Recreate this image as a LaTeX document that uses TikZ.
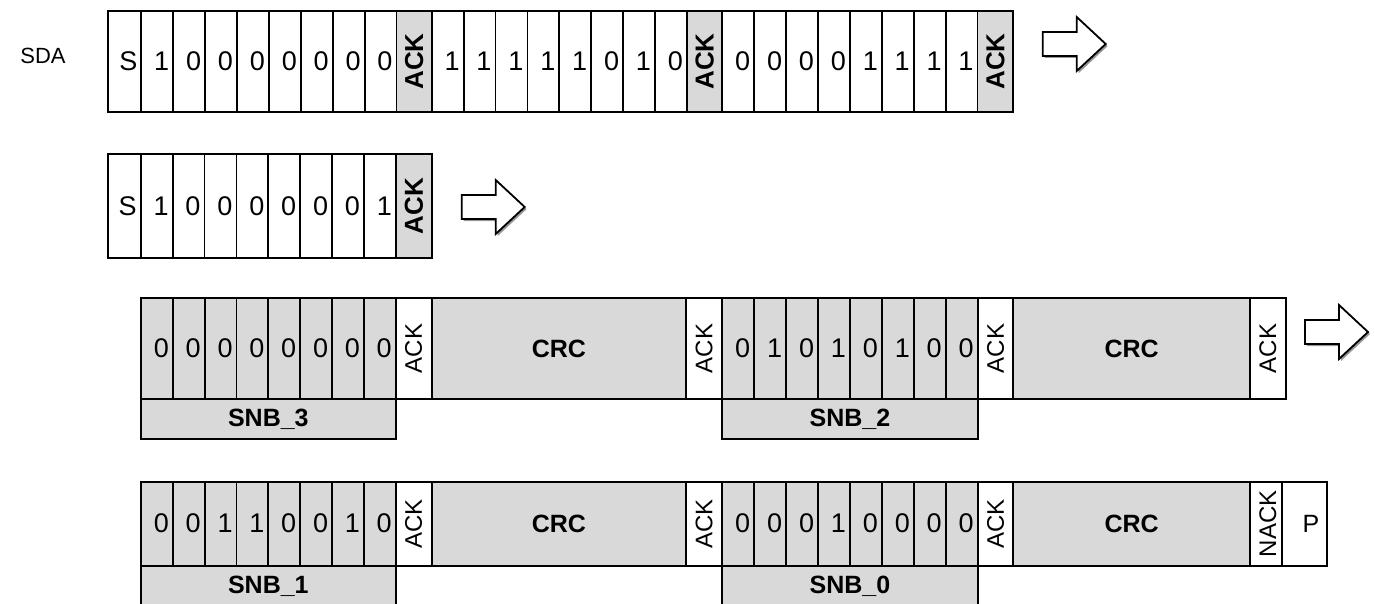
\documentclass[tikz,border=0pt]{standalone}
\usepackage{fontspec}
\setmainfont{Liberation Sans}
\definecolor{cellgray}{RGB}{217,217,217}
\definecolor{shadowgray}{RGB}{150,150,150}
\tikzset{
  base/.style={draw=black, line width=1.8pt, inner sep=0pt, outer sep=0pt, font=\fontsize{27}{27}\selectfont},
  bitw/.style={base, fill=white, text width=\celltw pt, align=right, inner xsep=4pt},
  bitg/.style={base, fill=cellgray, text width=\celltw pt, align=right, inner xsep=4pt},
  ackbold/.style={base, fill=cellgray, font=\fontsize{26}{26}\selectfont\bfseries},
  ackreg/.style={base, fill=white, font=\fontsize{24}{24}\selectfont},
  crcbox/.style={base, fill=cellgray, font=\fontsize{25}{25}\selectfont\bfseries},
  snbbox/.style={base, fill=cellgray, font=\fontsize{25}{25}\selectfont\bfseries},
  pbox/.style={base, fill=white, text width=\celltw pt, align=right, inner xsep=8pt, font=\fontsize{25}{25}\selectfont},
  arrowline/.style={draw=black, fill=white, line width=1.8pt, line join=miter},
  arrowshadow/.style={fill=shadowgray},
}
% horizontal cell: name, x1, x2, y1, y2, style, text
\newcommand\hcell[7]{%
  \pgfmathsetmacro\cellw{#3-#2}\pgfmathsetmacro\cellh{#5-#4}%
  \pgfmathsetmacro\celltw{#3-#2-8}%
  \pgfmathsetmacro\cellx{(#2+#3)/2}\pgfmathsetmacro\celly{(#4+#5)/2}%
  \node[#6, minimum width=\cellw pt, minimum height=\cellh pt] (#1) at (\cellx,\celly) {#7};}
% vertical (rotated text) cell
\newcommand\vcell[7]{%
  \pgfmathsetmacro\cellw{#3-#2}\pgfmathsetmacro\cellh{#5-#4}%
  \pgfmathsetmacro\cellx{(#2+#3)/2}\pgfmathsetmacro\celly{(#4+#5)/2}%
  \node[#6, rotate=90, minimum width=\cellh pt, minimum height=\cellw pt] (#1) at (\cellx,\celly) {#7};}
% row of bits: prefix, x0, width, y1, y2, style, list
\newcommand\bitrow[7]{%
  \foreach \bv [count=\bi from 0] in {#7} {%
    \pgfmathsetmacro\xa{#2+\bi*#3}\pgfmathsetmacro\xb{#2+(\bi+1)*#3}%
    \hcell{#1\bi}{\xa}{\xb}{#4}{#5}{#6}{\bv}}}
% block arrow: name, left x, centre y
\newcommand\blockarrow[3]{%
  \coordinate (#1) at (#2,#3);
  \begin{scope}[shift={(#1)}]
    \fill[arrowshadow] (2,-10) -- (36,-10) -- (36,-25) -- (65,2) -- (36,29) -- (36,14) -- (2,14) -- cycle;
    \draw[arrowline] (0,-12) -- (34,-12) -- (34,-27) -- (63,0) -- (34,27) -- (34,12) -- (0,12) -- cycle;
  \end{scope}}
\begin{document}
\begin{tikzpicture}[x=1pt,y=-1pt]
\useasboundingbox (0,0) rectangle (1375,604);

\node[font=\fontsize{22}{22}\selectfont] (sda) at (43,56) {SDA};

% ---- Row 1
\hcell{r1s}{108}{141.3}{11}{112}{bitw}{S}
\bitrow{r1a}{141.3}{31.9}{11}{112}{bitw}{1,0,0,0,0,0,0,0}
\vcell{r1ack1}{396.5}{431.7}{11}{112}{ackbold}{ACK}
\bitrow{r1b}{431.7}{31.9}{11}{112}{bitw}{1,1,1,1,1,0,1,0}
\vcell{r1ack2}{686.9}{722.3}{11}{112}{ackbold}{ACK}
\bitrow{r1c}{722.3}{31.9}{11}{112}{bitw}{0,0,0,0,1,1,1,1}
\vcell{r1ack3}{977.5}{1013.3}{11}{112}{ackbold}{ACK}
\blockarrow{arr1}{1042.7}{44}

% ---- Row 2
\hcell{r2s}{108}{140.7}{154}{257.7}{bitw}{S}
\bitrow{r2a}{140.7}{31.9}{154}{257.7}{bitw}{1,0,0,0,0,0,0,1}
\vcell{r2ack}{395.9}{431.7}{154}{257.7}{ackbold}{ACK}
\blockarrow{arr2}{461.7}{207}

% ---- Row 3
\bitrow{r3a}{141}{31.84}{298.3}{399}{bitg}{0,0,0,0,0,0,0,0}
\vcell{r3ack1}{395.7}{431.7}{298.3}{399}{ackreg}{ACK}
\hcell{r3crc1}{431.7}{686}{298.3}{399}{crcbox}{CRC}
\vcell{r3ack2}{686}{722.3}{298.3}{399}{ackreg}{ACK}
\bitrow{r3b}{722.3}{31.92}{298.3}{399}{bitg}{0,1,0,1,0,1,0,0}
\vcell{r3ack3}{977.7}{1013.3}{298.3}{399}{ackreg}{ACK}
\hcell{r3crc2}{1013.3}{1250}{298.3}{399}{crcbox}{CRC}
\vcell{r3ack4}{1250}{1285.7}{298.3}{399}{ackreg}{ACK}
\hcell{snb3}{141}{395.7}{399}{439}{snbbox}{SNB\_3}
\hcell{snb2}{722.3}{977.7}{399}{439}{snbbox}{SNB\_2}
\blockarrow{arr3}{1305}{332}

% ---- Row 4
\bitrow{r4a}{141}{31.84}{481.7}{565.7}{bitg}{0,0,1,1,0,0,1,0}
\vcell{r4ack1}{395.7}{431.7}{481.7}{565.7}{ackreg}{ACK}
\hcell{r4crc1}{431.7}{686}{481.7}{565.7}{crcbox}{CRC}
\vcell{r4ack2}{686}{722.3}{481.7}{565.7}{ackreg}{ACK}
\bitrow{r4b}{722.3}{31.92}{481.7}{565.7}{bitg}{0,0,0,1,0,0,0,0}
\vcell{r4ack3}{977.7}{1013.3}{481.7}{565.7}{ackreg}{ACK}
\hcell{r4crc2}{1013.3}{1250}{481.7}{565.7}{crcbox}{CRC}
\vcell{r4nack}{1250}{1285.7}{481.7}{565.7}{ackreg}{NACK}
\hcell{r4p}{1285.7}{1323.3}{481.7}{565.7}{pbox}{P}
\hcell{snb1}{141}{395.7}{565.7}{606}{snbbox}{SNB\_1}
\hcell{snb0}{722.3}{977.7}{565.7}{606}{snbbox}{SNB\_0}
\end{tikzpicture}
\end{document}
